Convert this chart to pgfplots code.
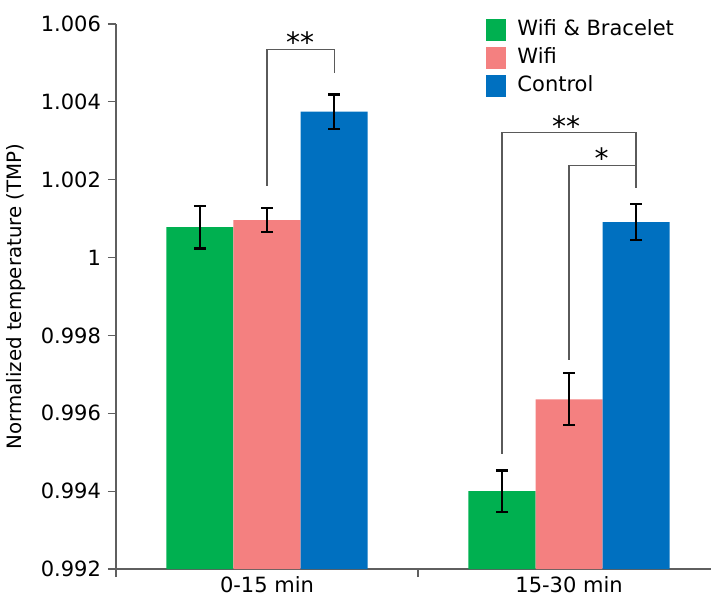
\documentclass[border=0pt]{standalone}
\usepackage{fontspec}
\setmainfont{DejaVu Sans}
\usepackage{pgfplots}
\pgfplotsset{compat=1.18}
\definecolor{cgreen}{RGB}{0,176,80}
\definecolor{cpink}{RGB}{244,128,128}
\definecolor{cblue}{RGB}{0,112,192}
\definecolor{axgray}{RGB}{95,95,95}
\definecolor{brgray}{RGB}{90,90,90}
\pgfplotsset{mylegend/.style={legend image code/.code={\fill[##1] (0pt,-5.5pt) rectangle (10pt,5.5pt); \path (14.5pt,0pt);}}}
\begin{document}
\begin{tikzpicture}
\useasboundingbox (-58pt,-18.5pt) rectangle (297.5pt,284.5pt);
\begin{axis}[
  scale only axis, width=297.5pt, height=272.5pt,
  at={(0,0)}, anchor=south west,
  xmin=-0.5, xmax=1.47, ymin=0.992, ymax=1.006,
  axis x line*=bottom, axis y line*=left,
  ybar=0pt, bar width=0.222,
  ytick={0.992,0.994,0.996,0.998,1,1.002,1.004,1.006},
  yticklabels={0.992,0.994,0.996,0.998,1,1.002,1.004,1.006},
  xtick={-0.5,0.5,1.5}, xticklabels={},
  extra x ticks={0,1}, extra x tick labels={0-15 min,15-30 min},
  extra x tick style={major tick length=0pt},
  tick align=outside, major tick length=4pt,
  tick style={axgray, line width=0.6pt},
  axis line style={axgray, line width=0.6pt},
  ticklabel style={font=\fontsize{10.5}{12}\selectfont},
  /pgf/number format/assume math mode=true,
  ylabel={Normalized temperature (TMP)},
  ylabel style={font=\fontsize{9.9}{11}\selectfont, at={(axis description cs:-0.168,0.5)}, anchor=center},
  error bars/y dir=both, error bars/y explicit,
  error bars/error bar style={black, line width=1.1pt},
  error bars/error mark options={rotate=90, mark size=3pt, line width=1.1pt, black},
  legend style={at={(0.622,1.012)}, anchor=north west, draw=none, fill=none,
    font=\fontsize{10.5}{12}\selectfont, row sep=1.5pt, inner sep=0pt,
    nodes={inner sep=1pt, text height=8pt, text depth=2.5pt}},
  legend cell align=left,
]
\addplot[fill=cgreen, draw=none, mylegend] coordinates {(0,1.000785) +- (0,0.00055) (1,0.99400) +- (0,0.00053)};
\addlegendentry{Wifi \& Bracelet}
\addplot[fill=cpink, draw=none, mylegend] coordinates {(0,1.00096) +- (0,0.00031) (1,0.99636) +- (0,0.00067)};
\addlegendentry{Wifi}
\addplot[fill=cblue, draw=none, mylegend] coordinates {(0,1.00375) +- (0,0.00044) (1,1.00091) +- (0,0.00046)};
\addlegendentry{Control}
% significance brackets
\draw[brgray, line width=0.75pt] (axis cs:0,1.00184) -- (axis cs:0,1.00535) -- (axis cs:0.223,1.00535) -- (axis cs:0.223,1.00475);
\node[anchor=south, inner sep=0pt, yshift=-2pt, font=\fontsize{14}{16}\selectfont] at (axis cs:0.11,1.00535) {**};
\draw[brgray, line width=0.75pt] (axis cs:0.778,0.99496) -- (axis cs:0.778,1.00321) -- (axis cs:1.222,1.00321) -- (axis cs:1.222,1.00179);
\draw[brgray, line width=0.75pt] (axis cs:1.0,0.99737) -- (axis cs:1.0,1.00237) -- (axis cs:1.222,1.00237);
\node[anchor=south, inner sep=0pt, yshift=-2pt, font=\fontsize{14}{16}\selectfont] at (axis cs:0.99,1.00321) {**};
\node[anchor=south, inner sep=0pt, yshift=-2pt, font=\fontsize{14}{16}\selectfont] at (axis cs:1.108,1.00237) {*};
\end{axis}
\end{tikzpicture}
\end{document}
